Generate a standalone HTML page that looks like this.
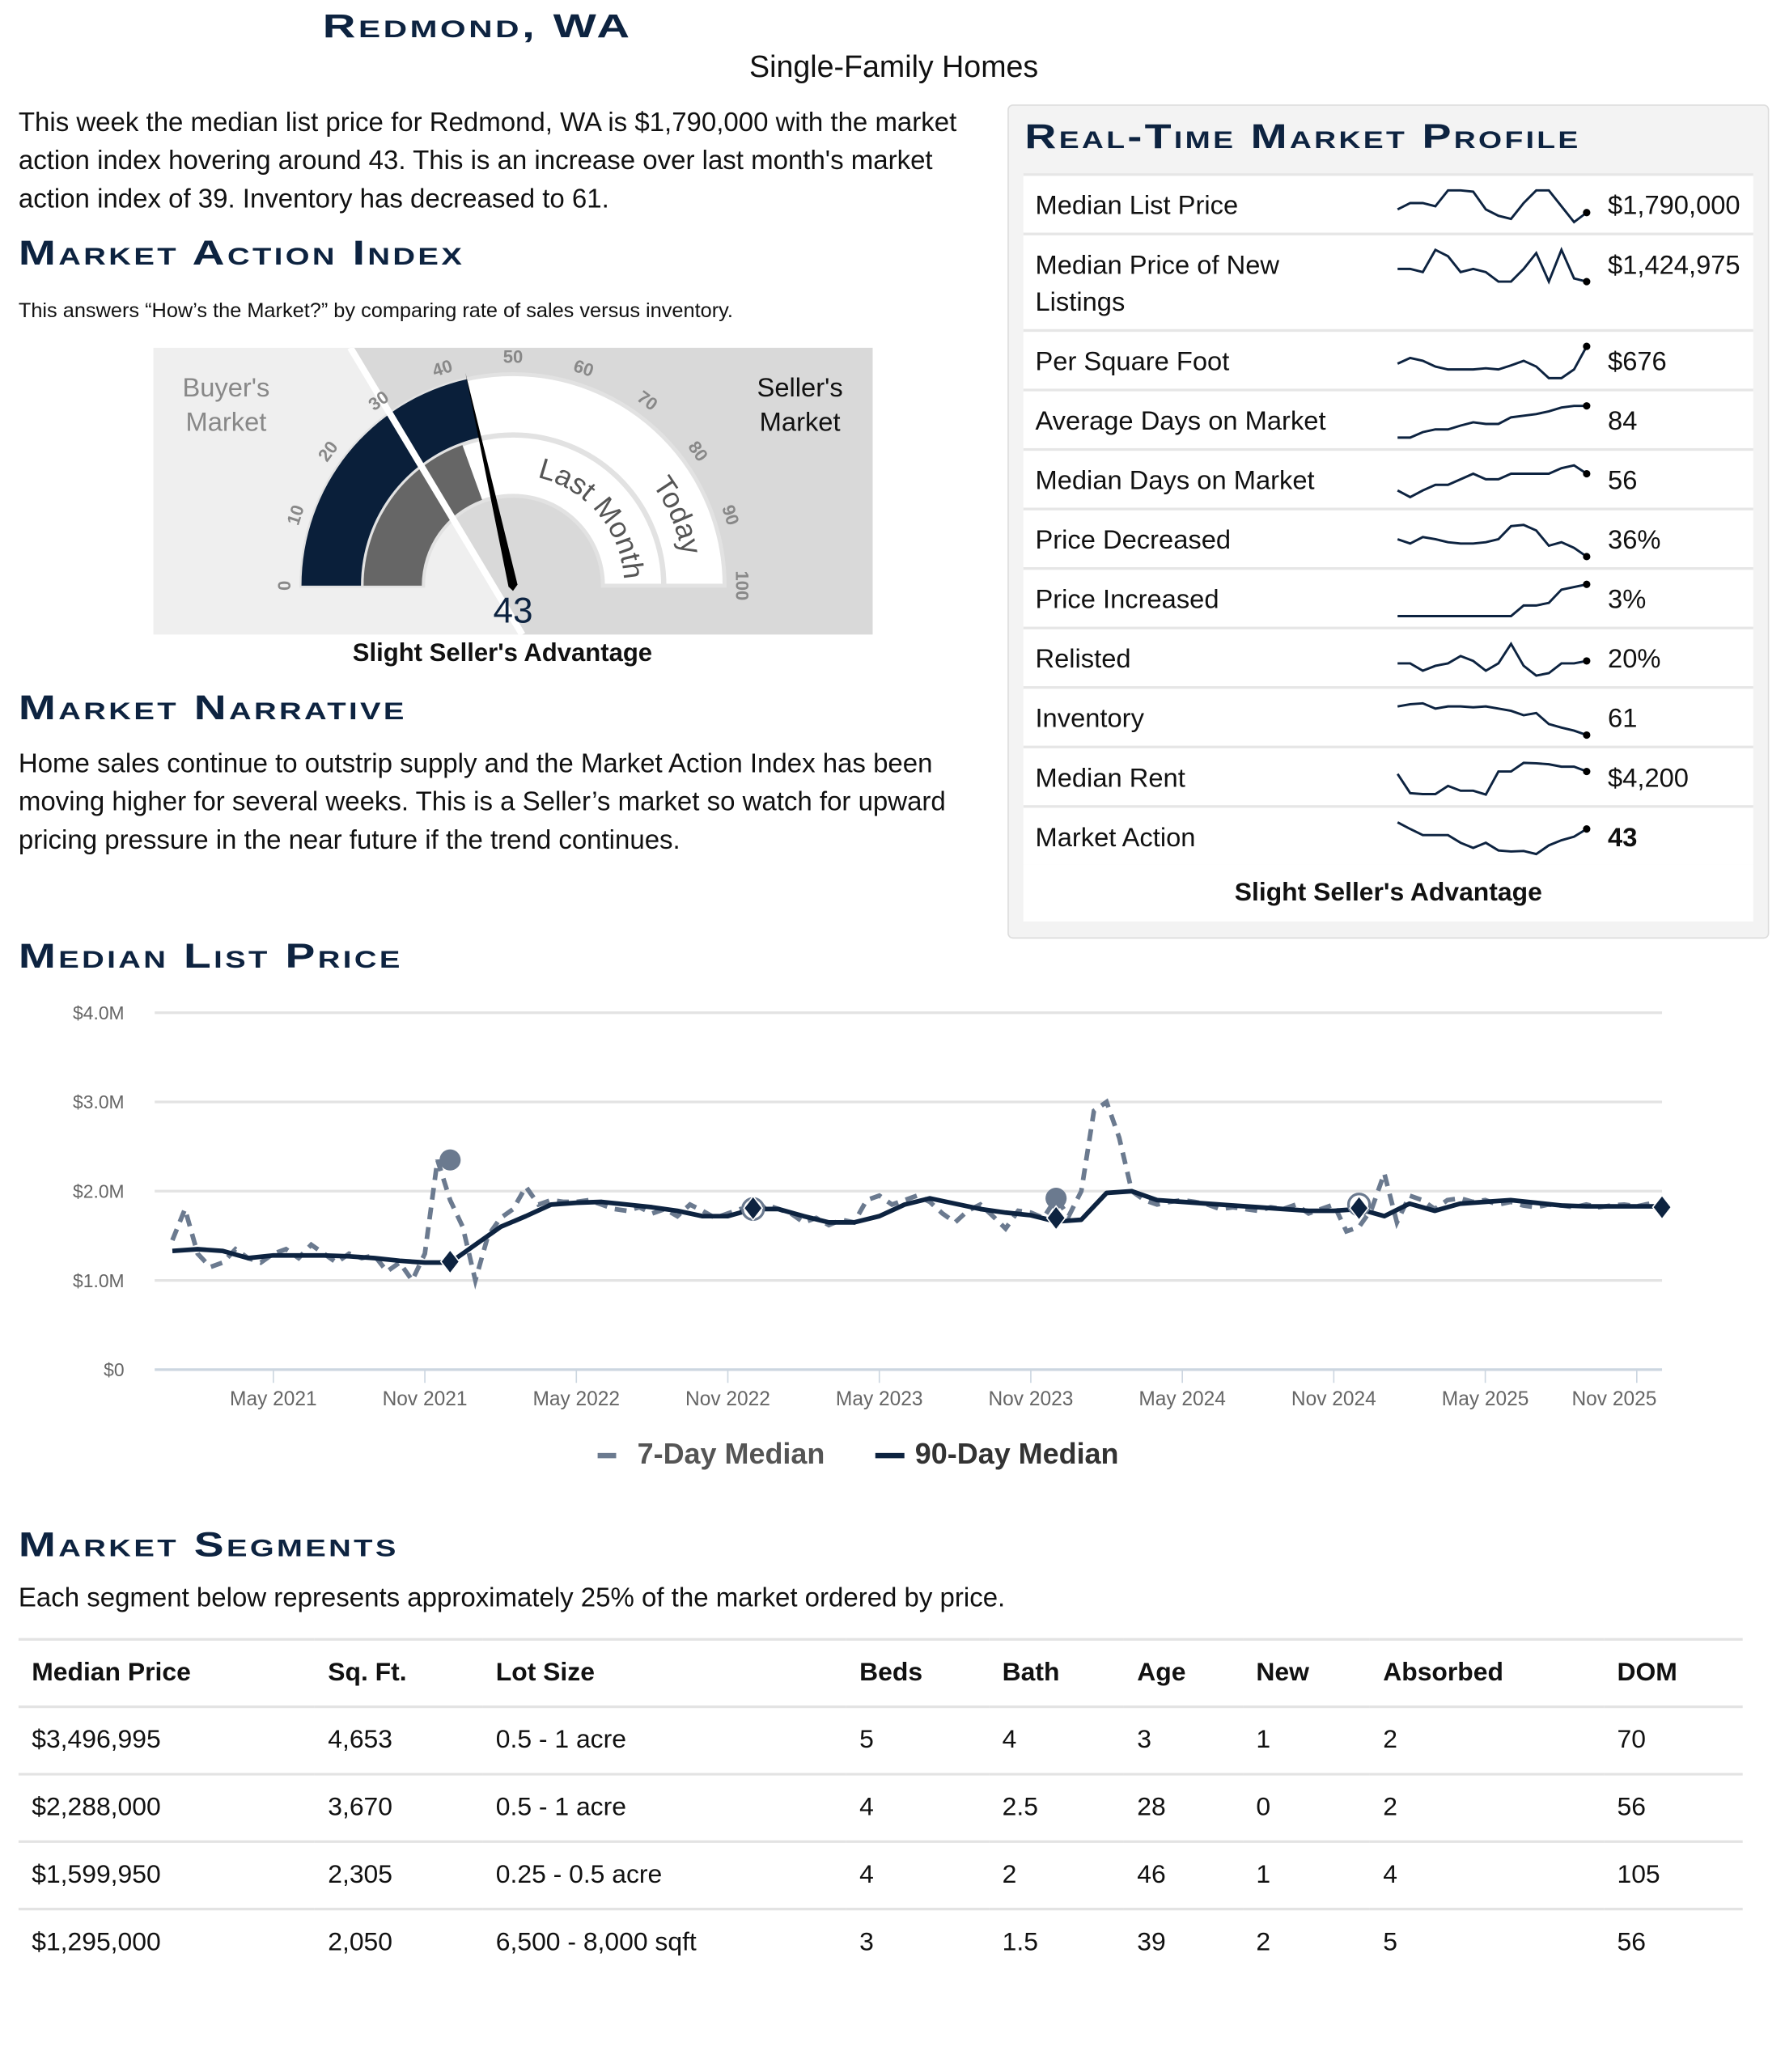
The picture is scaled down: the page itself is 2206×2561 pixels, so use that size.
<!DOCTYPE html>
<html><head><meta charset="utf-8">
<style>
html,body{margin:0;padding:0;background:#fff;}
body{width:2206px;height:2560px;overflow:hidden;position:relative;}
#wrap{position:absolute;left:0;top:0;width:1350px;height:1567px;transform:scale(1.63407);transform-origin:0 0;font-family:"Liberation Sans",sans-serif;color:#111;}
.abs{position:absolute;}
.h{position:absolute;font-weight:bold;font-variant:small-caps;color:#0d2340;letter-spacing:1.6px;font-size:26px;line-height:1;white-space:nowrap;transform:scaleX(1.3);transform-origin:0 50%;}
.p{position:absolute;font-size:20.2px;line-height:29px;color:#111;}
#prof{left:762px;top:79px;width:576px;height:631px;background:#f3f3f3;border:1px solid #ddd;border-radius:4px;box-sizing:border-box;}
.row{position:absolute;left:774px;width:552px;background:#fff;border-top:2px solid #e6e6e6;font-size:20px;}
.row .lb{position:absolute;left:9px;top:9px;line-height:28px;}
.row .vl{position:absolute;left:442px;top:9px;line-height:28px;}
table{position:absolute;left:14px;top:1239px;width:1304px;border-collapse:collapse;font-size:19.5px;}
td,th{text-align:left;padding:0 0 0 10px;height:49px;border-top:2px solid #e3e3e3;}
th{font-weight:bold;}
</style></head><body>
<div id="wrap">
<div class="h" style="left:244px;top:8px;font-size:25px;transform:scaleX(1.38);">Redmond, WA</div>
<div class="abs" style="left:0;width:1352px;text-align:center;top:37px;font-size:23px;">Single-Family Homes</div>
<div class="p" style="left:14px;top:79px;width:730px;">This week the median list price for Redmond, WA is $1,790,000 with the market action index hovering around 43. This is an increase over last month's market action index of 39. Inventory has decreased to 61.</div>
<div class="h" style="left:14px;top:178px;">Market Action Index</div>
<div class="abs" style="left:14px;top:227px;font-size:15.5px;">This answers “How’s the Market?” by comparing rate of sales versus inventory.</div>

<svg class="abs" style="left:116px;top:263px;" width="544" height="217" id="gauge"></svg>
<div class="abs" style="left:348px;top:447px;width:80px;text-align:center;font-size:27px;color:#0d2340;">43</div>
<div class="abs" style="left:180px;top:484px;width:400px;text-align:center;font-size:19px;font-weight:bold;">Slight Seller's Advantage</div>

<div class="h" style="left:14px;top:522px;">Market Narrative</div>
<div class="p" style="left:14px;top:564px;width:720px;">Home sales continue to outstrip supply and the Market Action Index has been moving higher for several weeks. This is a Seller’s market so watch for upward pricing pressure in the near future if the trend continues.</div>

<div class="abs" id="prof"></div>
<div class="h" style="left:775px;top:90px;transform:scaleX(1.27);">Real-Time Market Profile</div>
<div id="rows"></div>
<div class="abs" style="left:774px;top:654px;width:552px;height:43px;background:#fff;text-align:center;font-size:19.5px;font-weight:bold;line-height:43px;">Slight Seller's Advantage</div>

<div class="h" style="left:14px;top:710px;">Median List Price</div>
<svg class="abs" id="chart" style="left:0;top:740px;" width="1350" height="380"></svg>
<div class="abs" style="left:452px;top:1087px;font-size:22px;font-weight:bold;color:#555;"><span style="display:inline-block;width:14px;height:4px;background:#6b7a8f;vertical-align:middle;margin-right:16px;"></span>7-Day Median</div>
<div class="abs" style="left:662px;top:1087px;font-size:22px;font-weight:bold;color:#333;"><span style="display:inline-block;width:22px;height:4px;background:#0d2340;vertical-align:middle;margin-right:8px;"></span>90-Day Median</div>

<div class="h" style="left:14px;top:1155px;">Market Segments</div>
<div class="abs" style="left:14px;top:1198px;font-size:20.2px;">Each segment below represents approximately 25% of the market ordered by price.</div>
<table>
<tr><th style="width:214px">Median Price</th><th style="width:117px">Sq. Ft.</th><th style="width:265px">Lot Size</th><th style="width:98px">Beds</th><th style="width:92px">Bath</th><th style="width:80px">Age</th><th style="width:86px">New</th><th style="width:167px">Absorbed</th><th>DOM</th></tr>
<tr><td>$3,496,995</td><td>4,653</td><td>0.5 - 1 acre</td><td>5</td><td>4</td><td>3</td><td>1</td><td>2</td><td>70</td></tr>
<tr><td>$2,288,000</td><td>3,670</td><td>0.5 - 1 acre</td><td>4</td><td>2.5</td><td>28</td><td>0</td><td>2</td><td>56</td></tr>
<tr><td>$1,599,950</td><td>2,305</td><td>0.25 - 0.5 acre</td><td>4</td><td>2</td><td>46</td><td>1</td><td>4</td><td>105</td></tr>
<tr><td>$1,295,000</td><td>2,050</td><td>6,500 - 8,000 sqft</td><td>3</td><td>1.5</td><td>39</td><td>2</td><td>5</td><td>56</td></tr>
</table>
</div>
<script>
const NS='http://www.w3.org/2000/svg';
function mk(parent,tag,attrs){const e=document.createElementNS(NS,tag);for(const k in attrs)e.setAttribute(k,attrs[k]);parent.appendChild(e);return e;}

/* ---------- Gauge ---------- */
const gaugeToday=43;
const gaugeLastMonth=39;
const gaugeTicks=[0,10,20,30,40,50,60,70,80,90,100];
(function(){
const g=document.getElementById('gauge');
const cx=272,cy=180;
function pt(v,r){const a=v*Math.PI/100;return [cx-r*Math.cos(a),cy-r*Math.sin(a)];}
function band(v0,v1,r0,r1){const a=pt(v0,r1),b=pt(v1,r1),c=pt(v1,r0),d=pt(v0,r0);const lg=(v1-v0)>100?1:0;
return `M${a} A${r1},${r1} 0 ${lg} 1 ${b} L${c} A${r0},${r0} 0 ${lg} 0 ${d}Z`;}
let e=mk(g,'rect',{x:0,y:0,width:544,height:217,fill:'#efefef'});

e=mk(g,'polygon',{points:'149,0 544,0 544,217 279,217',fill:'#d9d9d9'});

e=mk(g,'path',{d:band(0,100,68,160),fill:'#fff',stroke:'#e2e2e2','stroke-width':3});

mk(g,'path',{d:`M${pt(0,114)} A114,114 0 0 1 ${pt(100,114)}`,fill:'none',stroke:'#e2e2e2','stroke-width':4});
e=mk(g,'path',{d:band(0,gaugeToday,115,160),fill:'#0a1f3a'});

e=mk(g,'path',{d:band(0,gaugeLastMonth,69,113),fill:'#666'});

mk(g,'line',{x1:149,y1:0,x2:279,y2:217,stroke:'#fff','stroke-width':5});
const defs=mk(g,'defs',{});
mk(defs,'path',{id:'arcLM',d:`M${pt(57,84)} A84,84 0 0 1 ${pt(100,84)}`});
mk(defs,'path',{id:'arcTD',d:`M${pt(80,130)} A130,130 0 0 1 ${pt(100,130)}`});
let t=mk(g,'text',{'font-size':22,fill:'#555','font-family':'Liberation Sans'});

let tp=mk(t,'textPath',{href:'#arcLM'});tp.textContent='Last Month';
t=mk(g,'text',{'font-size':22,fill:'#555','font-family':'Liberation Sans'});

tp=mk(t,'textPath',{href:'#arcTD'});tp.textContent='Today';
gaugeTicks.forEach(v=>{const p=pt(v,172);const tx=mk(g,'text',{x:p[0],y:p[1],'font-size':13.5,'font-weight':'bold',fill:'#888','text-anchor':'middle','dominant-baseline':'middle','font-family':'Liberation Sans',transform:`rotate(${v*1.8-90} ${p[0]} ${p[1]})`});


tx.textContent=v;});
const a=gaugeToday*Math.PI/100,tip=pt(gaugeToday,165);
const px=Math.sin(a)*3.5,py=-Math.cos(a)*3.5;
e=mk(g,'polygon',{points:`${tip} ${cx+px},${cy+py+0} ${cx},${cy+4} ${cx-px},${cy-py}`,fill:'#000'});

[['Buyer\'s',55,30,'#888'],['Market',55,56,'#888'],['Seller\'s',489,30,'#111'],['Market',489,56,'#111']].forEach((s,i)=>{
const tx=mk(g,'text',{x:s[1],y:s[2]+7,'font-size':20,fill:s[3],'text-anchor':'middle','font-family':'Liberation Sans'});


tx.textContent=s[0];});
})();

/* ---------- Profile rows with sparklines ---------- */
const profLabels=['Median List Price','Median Price of New Listings','Per Square Foot','Average Days on Market','Median Days on Market','Price Decreased','Price Increased','Relisted','Inventory','Median Rent','Market Action'];
const profValues=['$1,790,000','$1,424,975','$676','84','56','36%','3%','20%','61','$4,200','43'];
const sparkMLP=[3,4,4,3.5,6,6,5.8,3,2,1.5,4,6,6,3.5,1,2.5];
const sparkNew=[4,4,3.5,7,6,3.5,4,3.5,2,2,4,6.5,2,7,2.5,2];
const sparkPSF=[3,4,3.5,2.5,2,2,2,2.2,2,2.7,3.5,2.5,0.5,0.5,2,6];
const sparkAvgDom=[0,0,1,1.5,1.5,2.2,2.8,2.5,2.5,3.7,4,4.3,4.8,5.5,5.8,5.8];
const sparkMedDom=[2,0.8,2,3,3,4,5,4,4,5,5,5,5,6,6.5,5];
const sparkDec=[4,3,4.5,4,3.3,3,3,3.3,4,7,7.3,6,2.5,3.3,2,0];
const sparkInc=[0,0,0,0,0,0,0,0,0,0,2,2,2.5,5,5.5,6];
const sparkRel=[3,3,1.5,2.5,3,4.5,3.5,1.5,3,7,2.5,0.5,1,3,3,3.5];
const sparkInv=[6,6.5,6.7,5.5,6,6,5.8,6,5.5,5,4,4.5,2,1.2,0.5,-0.5];
const sparkRent=[5,1,0.8,0.8,2.5,1.5,1.5,0.7,5.5,5.5,7.3,7.2,7,6.5,6.5,5.5];
const sparkMA=[7,5.7,4.5,4.5,4.5,3,2,3,1.5,1.3,1.4,0.8,2.5,3.5,4.2,5.7];
const sparks=[sparkMLP,sparkNew,sparkPSF,sparkAvgDom,sparkMedDom,sparkDec,sparkInc,sparkRel,sparkInv,sparkRent,sparkMA];
(function(){
const rows=document.getElementById('rows');
let top=131;
profLabels.forEach((lab,i)=>{
const h=(i===1)?73:45;
const r=document.createElement('div');r.className='row';r.style.top=top+'px';r.style.height=(h-2)+'px';


const lb=document.createElement('div');lb.className='lb';lb.textContent=lab;
if(i===1){lb.innerHTML='Median Price of New<br>Listings';}


r.appendChild(lb);
const vl=document.createElement('div');vl.className='vl';vl.textContent=profValues[i];if(i===10)vl.style.fontWeight='bold';


r.appendChild(vl);
const s=document.createElementNS(NS,'svg');s.setAttribute('width',150);s.setAttribute('height',34);
s.style.position='absolute';s.style.left='280px';s.style.top='6px';


const d=sparks[i];const mn=Math.min(...d),mx=Math.max(...d);
const X=k=>3+k*(143/(d.length-1)),Y=v=>29-(v-mn)/(mx-mn)*24;
let pts=d.map((v,k)=>X(k)+','+Y(v)).join(' ');
mk(s,'polyline',{points:pts,fill:'none',stroke:'#0d2340','stroke-width':1.8});
mk(s,'circle',{cx:X(d.length-1),cy:Y(d[d.length-1]),r:2.8,fill:'#000'});
r.appendChild(s);rows.appendChild(r);
top+=h;});
})();

/* ---------- Median list price chart ---------- */
const yTicks=[0,1,2,3,4];
const yTickLabels=['$0','$1.0M','$2.0M','$3.0M','$4.0M'];
const xTickLabels=['May 2021','Nov 2021','May 2022','Nov 2022','May 2023','Nov 2023','May 2024','Nov 2024','May 2025','Nov 2025'];
const xTickMonths=[4.7,10.7,16.7,22.7,28.7,34.7,40.7,46.7,52.7,58.7];
const median90=[1.33,1.35,1.33,1.25,1.28,1.28,1.28,1.27,1.25,1.22,1.2,1.2,
1.4,1.6,1.72,1.85,1.87,1.88,1.85,1.82,1.78,1.72,1.72,1.8,
1.8,1.72,1.65,1.65,1.72,1.85,1.92,1.86,1.8,1.76,1.73,1.66,
1.68,1.98,2.0,1.9,1.88,1.86,1.84,1.82,1.8,1.78,1.78,1.8,
1.72,1.86,1.78,1.86,1.88,1.9,1.87,1.84,1.83,1.83,1.83,1.83];
const median7=[1.45,1.8,1.3,1.15,1.2,1.35,1.25,1.2,1.3,1.35,1.25,1.4,1.3,1.2,1.3,1.25,1.28,1.1,1.2,1.0,1.3,2.35,1.9,1.6,
1.0,1.5,1.7,1.8,2.05,1.85,1.9,1.88,1.88,1.9,1.85,1.8,1.78,1.82,1.75,1.8,1.72,1.85,1.78,1.7,1.75,1.8,1.72,1.85,
1.8,1.75,1.65,1.7,1.62,1.68,1.65,1.9,1.95,1.85,1.9,1.95,1.88,1.75,1.65,1.78,1.85,1.72,1.58,1.78,1.76,1.7,1.92,1.72,
2.0,2.9,3.0,2.6,2.0,1.9,1.85,1.88,1.9,1.88,1.85,1.8,1.82,1.8,1.78,1.82,1.8,1.85,1.75,1.8,1.85,1.55,1.6,1.8,
2.2,1.65,1.95,1.9,1.8,1.9,1.92,1.88,1.9,1.85,1.88,1.84,1.82,1.85,1.84,1.82,1.85,1.82,1.84,1.85,1.83,1.86,1.84,1.83];
const markerMonths=[11.7,23.7,35.7,47.7,59.7];
const markers90=[1.21,1.81,1.70,1.81,1.82];
const markers7=[2.35,1.8,1.92,1.85];
(function(){
const c=document.getElementById('chart');const oy=740;
const x0=117,x1=1257,tMax=59.7;
const X=t=>x0+t*(x1-x0)/tMax;
const Y=v=>1036-oy-v*67.5;
yTicks.forEach((v,i)=>{
const l=mk(c,'line',{x1:x0,x2:x1,y1:Y(v),y2:Y(v),stroke:i===0?'#ccd6e0':'#e3e3e3','stroke-width':2});

const t=mk(c,'text',{x:94,y:Y(v)+5,'text-anchor':'end','font-size':14,fill:'#666','font-family':'Liberation Sans'});

t.textContent=yTickLabels[i];});
xTickMonths.forEach((m,i)=>{
const l=mk(c,'line',{x1:X(m),x2:X(m),y1:Y(0),y2:Y(0)+10,stroke:'#ccd6e0','stroke-width':1});

const last=i===xTickMonths.length-1;
const t=mk(c,'text',{x:last?X(m)+15:X(m),y:Y(0)+27,'text-anchor':last?'end':'middle','font-size':15,fill:'#666','font-family':'Liberation Sans'});

t.textContent=xTickLabels[i];});
let p7=median7.map((v,k)=>X(0.7+k*0.5)+','+Y(v)).join(' ');
const s7=mk(c,'polyline',{points:p7,fill:'none',stroke:'#6b7a8f','stroke-width':3.5,'stroke-dasharray':'9 6'});

let p90=median90.map((v,k)=>X(0.7+k)+','+Y(v)).join(' ');
const s90=mk(c,'polyline',{points:p90,fill:'none',stroke:'#0d2340','stroke-width':3.5,'stroke-linejoin':'round'});

markers7.forEach((v,i)=>{const m=mk(c,'circle',{cx:X(markerMonths[i]),cy:Y(v),r:8,fill:i===1||i===3?'#fff':'#6b7a8f',stroke:'#6b7a8f','stroke-width':i===1||i===3?2:0});
});
markers90.forEach((v,i)=>{const x=X(markerMonths[i]),y=Y(v);
const m=mk(c,'polygon',{points:`${x},${y-9} ${x+7},${y} ${x},${y+9} ${x-7},${y}`,fill:'#0d2340',stroke:'#fff','stroke-width':1});
});
})();
</script>
</body></html>
